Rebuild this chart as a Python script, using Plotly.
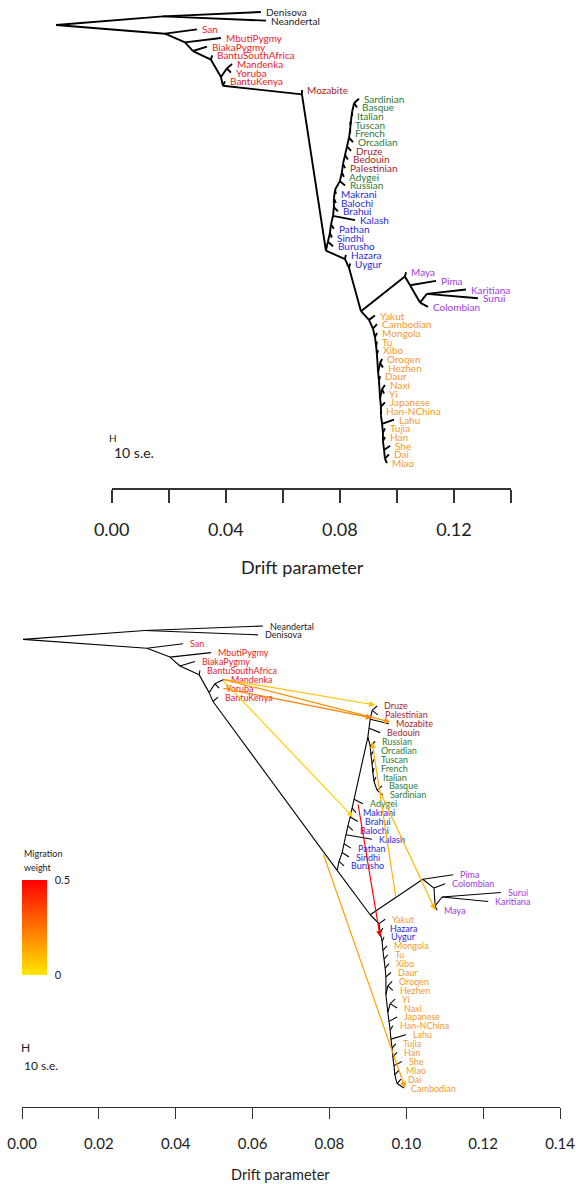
import plotly.graph_objects as go
from plotly.colors import sample_colorscale

FONT = "Lato"
COLORS = {"arch": "#222222", "afr": "#E8232A", "me": "#A3262A", "eur": "#2F7A34",
          "sas": "#2B2BD0", "amr": "#A03CD8", "eas": "#F39A2B"}

# ---------------- TOP TREE (no migration) ----------------
top_leaves = ["Denisova", "Neandertal", "San", "MbutiPygmy", "BiakaPygmy", "BantuSouthAfrica",
              "Mandenka", "Yoruba", "BantuKenya", "Mozabite", "Sardinian", "Basque", "Italian",
              "Tuscan", "French", "Orcadian", "Druze", "Bedouin", "Palestinian", "Adygei", "Russian",
              "Makrani", "Balochi", "Brahui", "Kalash", "Pathan", "Sindhi", "Burusho", "Hazara",
              "Uygur", "Maya", "Pima", "Karitiana", "Surui", "Colombian", "Yakut", "Cambodian",
              "Mongola", "Tu", "Xibo", "Oroqen", "Hezhen", "Daur", "Naxi", "Yi", "Japanese",
              "Han-NChina", "Lahu", "Tujia", "Han", "She", "Dai", "Miao"]
top_groups = ["arch", "arch"] + ["afr"] * 7 + ["me"] + ["eur"] * 6 + ["me"] * 3 + ["eur"] * 2 + \
             ["sas"] * 9 + ["amr"] * 5 + ["eas"] * 18
top_leaf_drift = [0.0522, 0.0540, 0.0298, 0.0382, 0.0333, 0.0351, 0.0421, 0.0417, 0.0396, 0.0666,
                  0.0866, 0.0859, 0.0842, 0.0835, 0.0835, 0.0845, 0.0838, 0.0827, 0.0817, 0.0813,
                  0.0817, 0.0785, 0.0785, 0.0792, 0.0852, 0.0778, 0.0771, 0.0775, 0.0820, 0.0835,
                  0.1031, 0.1136, 0.1241, 0.1283, 0.1108, 0.0922, 0.0929, 0.0929, 0.0929, 0.0933,
                  0.0947, 0.0950, 0.0940, 0.0957, 0.0954, 0.0957, 0.0943, 0.0989, 0.0957, 0.0957,
                  0.0975, 0.0971, 0.0964]
top_leaf_parent = ["arch", "arch", "af1", "af2", "af3", "af4", "MY", "MY", "bk", "oa",
                   "SB", "SB", "w_ita", "w_tus", "w_fre", "w_orc", "w_dru", "w_bed", "w_pal", "w_ady",
                   "w_rus", "w_mak", "w_bal", "w_bra", "w_kal", "w_pat", "w_sin", "we", "hz", "uy",
                   "am", "am2", "KS", "KS", "am3", "ea", "e1", "e2", "e3", "e4",
                   "OH", "OH", "e6", "NY", "NY", "e8", "e9", "e10", "e11", "e12",
                   "e13", "DM", "DM"]
top_nodes = ["root", "arch", "af1", "af2", "af3", "af4", "af5", "MY", "bk", "oa", "nonaf", "we",
             "w_sin", "w_pat", "w_kal", "w_bra", "w_bal", "w_mak", "w_rus", "w_ady", "w_pal", "w_bed",
             "w_dru", "w_orc", "w_fre", "w_tus", "w_ita", "SB", "hz", "uy", "amea", "am", "am2", "am3",
             "KS", "ea", "e1", "e2", "e3", "e4", "e5", "OH", "e6", "e7", "NY", "e8", "e9", "e10",
             "e11", "e12", "e13", "DM"]
top_node_parent = [None, "root", "root", "af1", "af2", "af3", "af4", "af5", "af5", "bk", "oa", "nonaf",
                   "we", "w_sin", "w_pat", "w_kal", "w_bra", "w_bal", "w_mak", "w_rus", "w_ady", "w_pal",
                   "w_bed", "w_dru", "w_orc", "w_fre", "w_tus", "w_ita", "nonaf", "hz", "uy", "amea", "am", "am2",
                   "am3", "amea", "ea", "e1", "e2", "e3", "e4", "e5", "e5", "e6", "e7", "e7", "e8", "e9",
                   "e10", "e11", "e12", "e13"]
top_node_drift = [-0.0196, 0.0179, 0.0186, 0.0256, 0.0284, 0.0347, 0.0382, 0.0403, 0.0389, 0.0666,
                  0.0750, 0.0757, 0.0764, 0.0768, 0.0775, 0.0778, 0.0778, 0.0782, 0.0799, 0.0806,
                  0.0810, 0.0817, 0.0824, 0.0831, 0.0835, 0.0838, 0.0842, 0.0849, 0.0817, 0.0831,
                  0.0873, 0.1027, 0.1045, 0.1080, 0.1104, 0.0901, 0.0915, 0.0922, 0.0926, 0.0929,
                  0.0933, 0.0940, 0.0936, 0.0940, 0.0947, 0.0943, 0.0943, 0.0947, 0.0950, 0.0950,
                  0.0954, 0.0957]

# ---------------- BOTTOM TREE (with migration) ----------------
bot_leaves = ["Neandertal", "Denisova", "San", "MbutiPygmy", "BiakaPygmy", "BantuSouthAfrica",
              "Mandenka", "Yoruba", "BantuKenya", "Druze", "Palestinian", "Mozabite", "Bedouin",
              "Russian", "Orcadian", "Tuscan", "French", "Italian", "Basque", "Sardinian", "Adygei",
              "Makrani", "Brahui", "Balochi", "Kalash", "Pathan", "Sindhi", "Burusho", "Pima",
              "Colombian", "Surui", "Karitiana", "Maya", "Yakut", "Hazara", "Uygur", "Mongola", "Tu",
              "Xibo", "Daur", "Oroqen", "Hezhen", "Yi", "Naxi", "Japanese", "Han-NChina", "Lahu",
              "Tujia", "Han", "She", "Miao", "Dai", "Cambodian"]
bot_groups = ["arch", "arch"] + ["afr"] * 7 + ["me"] * 4 + ["eur"] * 8 + ["sas"] * 7 + \
             ["amr"] * 5 + ["eas"] + ["sas"] * 2 + ["eas"] * 17
bot_leaf_drift = [0.0627, 0.0614, 0.0419, 0.0492, 0.0450, 0.0463, 0.0526, 0.0513, 0.0510, 0.0924,
                  0.0926, 0.0955, 0.0932, 0.0919, 0.0916, 0.0916, 0.0916, 0.0921, 0.0937, 0.0939,
                  0.0887, 0.0869, 0.0874, 0.0861, 0.0911, 0.0856, 0.0851, 0.0838, 0.1122, 0.1101,
                  0.1246, 0.1213, 0.1080, 0.0945, 0.0939, 0.0942, 0.0950, 0.0952, 0.0955, 0.0960,
                  0.0963, 0.0965, 0.0971, 0.0976, 0.0976, 0.0965, 0.0999, 0.0973, 0.0976, 0.0989,
                  0.0981, 0.0986, 0.0994]
bot_leaf_parent = ["arch", "arch", "af1", "af2", "af3", "af4", "MY", "MY", "bk", "me3",
                   "me3", "me2", "me1", "eu", "eu2", "eu3", "eu4", "eu5", "SB", "SB",
                   "ady", "mak", "bra", "bal", "kal", "pat", "sin", "we", "am", "am1",
                   "KS", "KS", "am2", "ea", "e1", "e2", "e3", "e4", "e5", "e6",
                   "OH", "OH", "YN", "YN", "e9", "e10", "e11", "e12", "e13", "e14",
                   "e15", "DC", "DC"]
bot_nodes = ["root", "arch", "af1", "af2", "af3", "af4", "af5", "MY", "bk", "oa", "we", "sin", "pat",
             "kal", "bal", "bra", "mak", "ady", "meeu", "me1", "me2", "me3", "eu", "eu2", "eu3", "eu4",
             "eu5", "SB", "east", "am", "am1", "am2", "KS", "ea", "e1", "e2", "e3", "e4", "e5", "e6",
             "e7", "OH", "e8", "YN", "e9", "e10", "e11", "e12", "e13", "e14", "e15", "DC"]
bot_node_parent = [None, "root", "root", "af1", "af2", "af3", "af4", "af5", "af5", "bk", "oa", "we",
                   "sin", "pat", "kal", "bal", "bra", "mak", "ady", "meeu", "me1", "me2", "meeu", "eu",
                   "eu2", "eu3", "eu4", "eu5", "oa", "east", "am", "am1", "am2", "east", "ea", "e1", "e2",
                   "e3", "e4", "e5", "e6", "e7", "e7", "e8", "e8", "e9", "e10", "e11", "e12", "e13",
                   "e14", "e15"]
bot_node_drift = [0.0003, 0.0320, 0.0325, 0.0385, 0.0411, 0.0461, 0.0487, 0.0502, 0.0497, 0.0820,
                  0.0825, 0.0833, 0.0838, 0.0843, 0.0848, 0.0854, 0.0859, 0.0864, 0.0900, 0.0903,
                  0.0906, 0.0911, 0.0906, 0.0908, 0.0911, 0.0913, 0.0916, 0.0924, 0.0906, 0.1043,
                  0.1072, 0.1075, 0.1093, 0.0929, 0.0932, 0.0937, 0.0939, 0.0942, 0.0945, 0.0947,
                  0.0947, 0.0952, 0.0952, 0.0958, 0.0955, 0.0958, 0.0960, 0.0963, 0.0965, 0.0968,
                  0.0970, 0.0976]

# migration edges: (from drift, from row, to drift, to row, weight)
mig_from_drift = [0.0520, 0.0520, 0.0520, 0.0520, 0.0874, 0.0973, 0.0926, 0.0783]
mig_from_row = [5.97, 5.97, 6.98, 5.97, 19.92, 30.61, 18.12, 25.55]
mig_to_drift = [0.0919, 0.0958, 0.0911, 0.0861, 0.0932, 0.0911, 0.1075, 0.0997]
mig_to_row = [8.89, 10.80, 10.35, 21.50, 35.00, 13.06, 31.96, 52.0]
mig_weight = [0.08, 0.19, 0.22, 0.05, 0.49, 0.12, 0.10, 0.15]

axis_ticks = [0.00, 0.02, 0.04, 0.06, 0.08, 0.10, 0.12, 0.14]
top_tick_text = ["0.00", "", "0.04", "", "0.08", "", "0.12", ""]
bot_tick_text = ["0.00", "0.02", "0.04", "0.06", "0.08", "0.10", "0.12", "0.14"]
mig_scale = [[0.0, "#FFE600"], [1.0, "#FF0000"]]


def layout_tree(leaves, leaf_drift, leaf_parent, nodes, node_parent, node_drift):
    pos = {}
    children = {n: [] for n in nodes}
    for i, name in enumerate(leaves):
        pos[name] = (leaf_drift[i], float(i))
        children[leaf_parent[i]].append(name)
    for n, p in zip(nodes, node_parent):
        if p is not None:
            children[p].append(n)
    span = {}

    def leafspan(n):
        if n in span:
            return span[n]
        if n not in children:
            s = (pos[n][1], pos[n][1])
        else:
            ss = [leafspan(c) for c in children[n]]
            s = (min(a for a, b in ss), max(b for a, b in ss))
        span[n] = s
        return s

    for n, d in zip(nodes, node_drift):
        ss = sorted([leafspan(c) for c in children[n]])
        pos[n] = (d, (ss[0][1] + ss[1][0]) / 2.0)
    xs, ys = [], []
    for n, p in list(zip(nodes, node_parent)) + list(zip(leaves, leaf_parent)):
        if p is None:
            continue
        xs += [pos[p][0], pos[n][0], None]
        ys += [pos[p][1], pos[n][1], None]
    return pos, xs, ys


fig = go.Figure()
annotations = []

# top tree
tpos, txs, tys = layout_tree(top_leaves, top_leaf_drift, top_leaf_parent,
                             top_nodes, top_node_parent, top_node_drift)
fig.add_trace(go.Scatter(x=txs, y=tys, mode="lines", line=dict(color="black", width=1.9),
                         xaxis="x", yaxis="y", hoverinfo="skip"))
for i, name in enumerate(top_leaves):
    annotations.append(dict(x=tpos[name][0], y=i, xref="x", yref="y", text=name, showarrow=False,
                            xanchor="left", yanchor="middle", xshift=3,
                            font=dict(family=FONT, size=10, color=COLORS[top_groups[i]])))

# bottom tree
bpos, bxs, bys = layout_tree(bot_leaves, bot_leaf_drift, bot_leaf_parent,
                             bot_nodes, bot_node_parent, bot_node_drift)
fig.add_trace(go.Scatter(x=bxs, y=bys, mode="lines", line=dict(color="black", width=1.1),
                         xaxis="x2", yaxis="y2", hoverinfo="skip"))
for i, name in enumerate(bot_leaves):
    annotations.append(dict(x=bpos[name][0], y=i, xref="x2", yref="y2", text=name, showarrow=False,
                            xanchor="left", yanchor="middle", xshift=5,
                            font=dict(family=FONT, size=9, color=COLORS[bot_groups[i]])))

# migration arrows
mcols = sample_colorscale(mig_scale, [w / 0.5 for w in mig_weight])
for fx, fy, tx, ty, c in zip(mig_from_drift, mig_from_row, mig_to_drift, mig_to_row, mcols):
    annotations.append(dict(x=tx, y=ty, ax=fx, ay=fy, xref="x2", yref="y2", axref="x2", ayref="y2",
                            showarrow=True, arrowhead=2, arrowsize=1.0, arrowwidth=1.2,
                            arrowcolor=c, standoff=0, text=""))

# colorbar for migration weight
fig.add_trace(go.Scatter(x=[0, 0], y=[5, 5], xaxis="x3", yaxis="y3", mode="markers",
                         marker=dict(size=1, opacity=0, color=[0, 0.5], cmin=0, cmax=0.5,
                                     colorscale=mig_scale, showscale=True,
                                     colorbar=dict(thickness=25, thicknessmode="pixels", len=95,
                                                   lenmode="pixels", x=22 / 576, xanchor="left",
                                                   y=1 - 880 / 1184, yanchor="top", xpad=0, ypad=0,
                                                   outlinewidth=0, tickvals=[0, 0.5],
                                                   ticktext=["0", "0.5"], ticks="outside",
                                                   ticklen=6, tickcolor="rgba(0,0,0,0)",
                                                   tickfont=dict(family=FONT, size=11, color="#222"))),
                         hoverinfo="skip"))
fig.add_trace(go.Scatter(x=[0, 0.14], y=[5, 5], xaxis="x4", yaxis="y4", mode="markers",
                         marker=dict(opacity=0), hoverinfo="skip"))

W, H = 576, 1184


def px(v):
    return v / W


def py(v):
    return 1 - v / H


texts = [("Migration", 22, 853, 9, "left"), ("weight", 22, 867, 9, "left"),
         ("H", 113, 438, 10, "center"), ("10 s.e.", 112, 453, 14, "left"),
         ("H", 25, 1047, 12, "center"), ("10 s.e.", 22, 1065, 12, "left"),
         ("Drift parameter", 302, 567, 18, "center"), ("Drift parameter", 280, 1174, 14.5, "center")]
for t, x, y, s, anc in texts:
    annotations.append(dict(x=px(x), y=py(y), xref="paper", yref="paper", text=t, showarrow=False,
                            xanchor=anc, yanchor="middle", font=dict(family=FONT, size=s, color="#222")))

top_sc = 2852.0
bot_sc = 3843.0
fig.update_layout(
    width=W, height=H, margin=dict(l=0, r=0, t=0, b=0, autoexpand=False), paper_bgcolor="white",
    plot_bgcolor="rgba(0,0,0,0)", showlegend=False, annotations=annotations,
    xaxis=dict(domain=[0, 1], range=[-112 / top_sc, (W - 112) / top_sc], visible=False, anchor="y"),
    yaxis=dict(domain=[0, 1], range=[(H - 12) / 8.673, -12 / 8.673], visible=False, anchor="x"),
    xaxis2=dict(domain=[0, 1], range=[-22 / bot_sc, (W - 22) / bot_sc], visible=False,
                anchor="y2", overlaying="x"),
    yaxis2=dict(domain=[0, 1], range=[(H - 626) / 8.885, -626 / 8.885], visible=False,
                anchor="x2", overlaying="y"),
    yaxis3=dict(domain=[0, 1], range=[-1, 1], visible=False, anchor="x3"),
    yaxis4=dict(domain=[0, 1], range=[-1, 1], visible=False, anchor="x4"),
    xaxis3=dict(domain=[111.7 / W, 511 / W], range=[0, 0.14], anchor="free", position=py(489),
                showline=True, linecolor="#333", linewidth=1.5, ticks="outside",
                ticklen=13, tickwidth=1.5, tickcolor="#333", tickvals=axis_ticks,
                ticktext=top_tick_text, tickfont=dict(family=FONT, size=18, color="#222"),
                showgrid=False, zeroline=False, ticklabelstandoff=12),
    xaxis4=dict(domain=[22 / W, 560 / W], range=[0, 0.14], anchor="free", position=py(1107),
                showline=True, linecolor="#333", linewidth=1.2, ticks="outside",
                ticklen=11, tickwidth=1.2, tickcolor="#333", tickvals=axis_ticks,
                ticktext=bot_tick_text, tickfont=dict(family=FONT, size=15, color="#222"),
                showgrid=False, zeroline=False, ticklabelstandoff=12),
)
fig.write_html("out.html", config={"displayModeBar": False},
               post_script="document.body.style.margin='0px';")
